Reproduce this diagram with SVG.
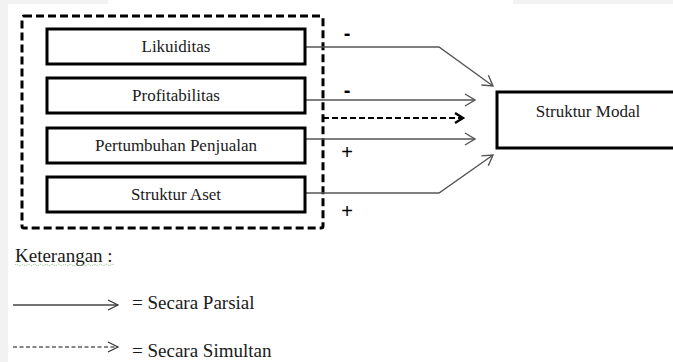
<svg xmlns="http://www.w3.org/2000/svg" width="673" height="362" viewBox="0 0 673 362">
<style>
.box{fill:#fff;stroke:#000;stroke-width:3}
.lbl{font-family:'Liberation Serif','DejaVu Serif',serif;font-size:17px;fill:#1a1a1a;text-anchor:middle}
.leg{font-family:'Liberation Serif','DejaVu Serif',serif;font-size:19px;fill:#1a1a1a}
.sign{font-family:'Liberation Sans','DejaVu Sans',sans-serif;font-size:20px;fill:#000;text-anchor:middle}
.arr{fill:none;stroke:#555;stroke-width:1.4;marker-end:url(#open)}
</style>
<defs>
<marker id="open" markerUnits="userSpaceOnUse" markerWidth="14" markerHeight="16" refX="11" refY="7" orient="auto">
<path d="M1,1 L11,7 L1,13" fill="none" stroke="#555" stroke-width="1.4"/>
</marker>
<marker id="bold" markerUnits="userSpaceOnUse" markerWidth="14" markerHeight="14" refX="10" refY="6" orient="auto">
<path d="M2,1 L10,6 L2,11" fill="none" stroke="#000" stroke-width="2.4"/>
</marker>
<marker id="thin" markerUnits="userSpaceOnUse" markerWidth="14" markerHeight="14" refX="11" refY="6" orient="auto">
<path d="M1,1 L11,6 L1,11" fill="none" stroke="#333" stroke-width="1.2"/>
</marker>
</defs>
<rect width="673" height="362" fill="#fff"/>
<rect x="0" y="0" width="8" height="362" fill="#f2f2f2"/>
<rect x="0" y="0" width="108" height="4" fill="#f2f2f2"/>
<rect x="513" y="0" width="160" height="4" fill="#f2f2f2"/>

<g id="group-outer">
<rect x="22" y="16" width="301" height="212" rx="2" fill="none" stroke="#000" stroke-width="3" stroke-dasharray="8 4"/>
</g>

<g id="connectors">
<polyline class="arr" points="305,47 439,47 493,86"/>
<line class="arr" x1="305" y1="100" x2="475" y2="100"/>
<line x1="323" y1="118" x2="463" y2="118" stroke="#000" stroke-width="2" stroke-dasharray="6 3" marker-end="url(#bold)"/>
<line class="arr" x1="305" y1="139" x2="475" y2="139"/>
<polyline class="arr" points="305,193 439,193 493,155"/>
<text class="sign" x="347" y="40" font-weight="bold">-</text>
<text class="sign" x="347" y="97" font-weight="bold">-</text>
<text class="sign" x="347" y="159">+</text>
<text class="sign" x="347" y="218">+</text>
</g>

<g id="node-likuiditas">
<rect class="box" x="47" y="29" width="258" height="35"/>
<text class="lbl" x="176" y="52">Likuiditas</text>
</g>
<g id="node-profitabilitas">
<rect class="box" x="47" y="78" width="258" height="35"/>
<text class="lbl" x="176" y="101">Profitabilitas</text>
</g>
<g id="node-pertumbuhan">
<rect class="box" x="47" y="128" width="258" height="35"/>
<text class="lbl" x="176" y="151">Pertumbuhan Penjualan</text>
</g>
<g id="node-aset">
<rect class="box" x="47" y="177" width="258" height="35"/>
<text class="lbl" x="176" y="200">Struktur Aset</text>
</g>
<g id="node-modal">
<rect class="box" x="497" y="92" width="185" height="56"/>
<text class="lbl" x="588" y="117">Struktur Modal</text>
</g>

<g id="legend">
<text class="leg" x="15" y="262">Keterangan :</text>
<path d="M15,265 q1.5,-1.5 3,0 t3,0 t3,0 t3,0 t3,0 t3,0 t3,0 t3,0 t3,0 t3,0 t3,0 t3,0 t3,0 t3,0 t3,0 t3,0 t3,0 t3,0 t3,0 t3,0 t3,0 t3,0 t3,0 t3,0 t3,0 t3,0 t3,0 t3,0 t3,0 t3,0 t3,0 t3,0 t3,0" fill="none" stroke="#7fbf7f" stroke-width="1" stroke-dasharray="1 1"/>
<line x1="13" y1="305" x2="118" y2="305" stroke="#444" stroke-width="1.4" marker-end="url(#thin)"/>
<text class="leg" x="132" y="309">= Secara Parsial</text>
<line x1="13" y1="347" x2="118" y2="347" stroke="#111" stroke-width="1.2" stroke-dasharray="4 2.5" marker-end="url(#thin)"/>
<text class="leg" x="132" y="357">= Secara Simultan</text>
</g>
</svg>
